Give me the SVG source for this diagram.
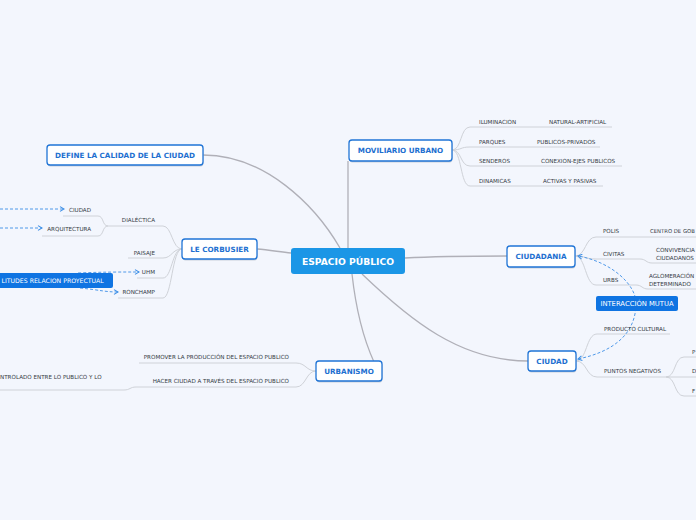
<svg xmlns="http://www.w3.org/2000/svg" width="696" height="520" viewBox="0 0 696 520">
<defs>
<style>
.main{fill:none;stroke:#b0b0b8;stroke-width:1.3}
.sub{fill:none;stroke:#cfd2d8;stroke-width:1}
.dash{fill:none;stroke:#3d8fe6;stroke-width:0.9;stroke-dasharray:3 2}
.node{fill:#ffffff;stroke:#1f74d6;stroke-width:1.3}
.shadow{fill:#c9cfdb}
.nt{font-family:"DejaVu Sans",Verdana,sans-serif;font-weight:bold;font-size:7.2px;fill:#1d6fd0;text-anchor:middle}
.lb{font-family:"DejaVu Sans",Verdana,sans-serif;font-size:5.6px;fill:#333a44}
.wt{font-family:"DejaVu Sans",Verdana,sans-serif;font-size:6.8px;fill:#ffffff}
</style>
<marker id="arr" viewBox="0 0 6 6" refX="5" refY="3" markerWidth="6" markerHeight="6" orient="auto" markerUnits="userSpaceOnUse">
<path d="M1 0.6 L5 3 L1 5.4" fill="none" stroke="#3d8fe6" stroke-width="1.1"/>
</marker>
</defs>
<rect width="696" height="520" fill="#f3f6fd"/>
<g id="connectors">
<path class="main" d="M348 248 L348 161"/>
<path class="main" d="M203 155 C265 155, 315 205, 340 248"/>
<path class="main" d="M257 249 C270 250, 280 252, 291 253"/>
<path class="main" d="M405 258 C440 256, 470 256, 507 256"/>
<path class="main" d="M362 274 C410 320, 460 361, 528 361"/>
<path class="main" d="M352 274 C356 310, 364 340, 374 362"/>
<path class="sub" d="M452 150 C462 150, 460 127, 470 127 L612 127"/>
<path class="sub" d="M452 150 C462 150, 460 147, 470 147 L600 147"/>
<path class="sub" d="M452 150 C462 150, 460 166, 470 166 L622 166"/>
<path class="sub" d="M452 150 C462 150, 460 186, 470 186 L603 186"/>
<path class="sub" d="M182 249 C172 249, 172 226, 163 226 L108 226"/>
<path class="sub" d="M182 249 C172 249, 172 258, 163 258 L128 258"/>
<path class="sub" d="M182 249 C172 249, 172 278, 163 278 L137 278"/>
<path class="sub" d="M182 249 C172 249, 172 298, 163 298 L118 298"/>
<path class="sub" d="M108 226 C102 226, 104 216, 98 216 L63 216"/>
<path class="sub" d="M108 226 C102 226, 104 236, 98 236 L42 236"/>
<path class="sub" d="M575 256 C586 256, 585 237, 596 237 L696 237"/>
<path class="sub" d="M575 256 C586 256, 585 259, 596 259 L640 259 C646 259, 646 263, 652 263 L696 263"/>
<path class="sub" d="M575 256 C586 256, 585 285, 596 285 L636 285 C642 285, 642 289, 648 289 L696 289"/>
<path class="sub" d="M576 361 C587 361, 586 334, 597 334 L670 334"/>
<path class="sub" d="M576 361 C587 361, 586 377, 597 377 L696 377"/>
<path class="sub" d="M666 377 C676 377, 674 357, 684 357 L696 357"/>
<path class="sub" d="M666 377 C676 377, 674 396, 684 396 L696 396"/>
<path class="sub" d="M316 371 C306 371, 306 363, 296 363 L139 363"/>
<path class="sub" d="M316 371 C306 371, 306 387, 296 387 L136 387 C130 387, 130 390, 124 390 L0 390"/>
<path class="dash" d="M0 209 L64 209" marker-end="url(#arr)"/>
<path class="dash" d="M0 228 L42 228" marker-end="url(#arr)"/>
<path class="dash" d="M78 273 C100 272, 120 272, 139 272" marker-end="url(#arr)"/>
<path class="dash" d="M80 288 C100 290, 105 292, 118 292" marker-end="url(#arr)"/>
<path class="dash" d="M636 303 C636 285, 612 262, 578 256" marker-end="url(#arr)"/>
<path class="dash" d="M636 303 C636 335, 612 352, 578 359" marker-end="url(#arr)"/>
</g>
<g id="espacio-publico">
<rect x="291" y="248" width="114" height="26" rx="3" fill="#1b96e6"/>
<text x="348" y="264.8" font-family="DejaVu Sans,Verdana,sans-serif" font-weight="bold" font-size="9.2" fill="#ffffff" text-anchor="middle">ESPACIO PÚBLICO</text>
</g>
<g id="moviliario-urbano">
<rect class="shadow" x="349.5" y="141.5" width="103" height="21" rx="3"/>
<rect class="node" x="349" y="140" width="103" height="21" rx="3"/>
<text class="nt" x="400.5" y="153.2">MOVILIARIO URBANO</text>
</g>
<g id="define-calidad">
<rect class="shadow" x="47.5" y="146.5" width="156" height="20" rx="3"/>
<rect class="node" x="47" y="145" width="156" height="20" rx="3"/>
<text class="nt" x="125" y="157.7">DEFINE LA CALIDAD DE LA CIUDAD</text>
</g>
<g id="le-corbusier">
<rect class="shadow" x="182.5" y="240.5" width="75" height="20" rx="3"/>
<rect class="node" x="182" y="239" width="75" height="20" rx="3"/>
<text class="nt" x="219.5" y="251.7">LE CORBUSIER</text>
</g>
<g id="ciudadania">
<rect class="shadow" x="507.5" y="247.5" width="68" height="21" rx="3"/>
<rect class="node" x="507" y="246" width="68" height="21" rx="3"/>
<text class="nt" x="541" y="259.2">CIUDADANIA</text>
</g>
<g id="ciudad">
<rect class="shadow" x="528.5" y="352.5" width="48" height="20" rx="3"/>
<rect class="node" x="528" y="351" width="48" height="20" rx="3"/>
<text class="nt" x="552" y="363.7">CIUDAD</text>
</g>
<g id="urbanismo">
<rect class="shadow" x="316.5" y="362.5" width="66" height="20" rx="3"/>
<rect class="node" x="316" y="361" width="66" height="20" rx="3"/>
<text class="nt" x="349" y="373.7">URBANISMO</text>
</g>
<g id="interaccion-mutua">
<rect x="596" y="296" width="82" height="15" rx="2" fill="#0f74e2"/>
<text class="wt" x="637" y="306" text-anchor="middle">INTERACCIÓN MUTUA</text>
</g>
<g id="similitudes">
<path d="M0 273 H111 A2 2 0 0 1 113 275 V286 A2 2 0 0 1 111 288 H0 Z" fill="#0f74e2"/>
<text class="wt" x="1.5" y="282.9" style="font-size:6.2px">LITUDES RELACION PROYECTUAL</text>
</g>
<g id="labels-moviliario">
<text class="lb" x="479" y="124">ILUMINACION</text>
<text class="lb" x="549" y="124">NATURAL-ARTIFICIAL</text>
<text class="lb" x="479" y="143.5">PARQUES</text>
<text class="lb" x="537" y="143.5">PUBLICOS-PRIVADOS</text>
<text class="lb" x="479" y="163">SENDEROS</text>
<text class="lb" x="541" y="163">CONEXION-EJES PUBLICOS</text>
<text class="lb" x="479" y="182.5">DINAMICAS</text>
<text class="lb" x="543" y="182.5">ACTIVAS Y PASIVAS</text>
</g>
<g id="labels-corbusier">
<text class="lb" x="155" y="222" text-anchor="end">DIALÉCTICA</text>
<text class="lb" x="91" y="212" text-anchor="end">CIUDAD</text>
<text class="lb" x="91" y="231" text-anchor="end">ARQUITECTURA</text>
<text class="lb" x="155" y="255" text-anchor="end">PAISAJE</text>
<text class="lb" x="155" y="274" text-anchor="end">UHM</text>
<text class="lb" x="155" y="294" text-anchor="end">RONCHAMP</text>
</g>
<g id="labels-ciudadania">
<text class="lb" x="603" y="233">POLIS</text>
<text class="lb" x="650" y="233" style="font-size:5.3px">CENTRO DE GOB</text>
<text class="lb" x="603" y="256">CIVITAS</text>
<text class="lb" x="656" y="252">CONVIVENCIA</text>
<text class="lb" x="656" y="260">CIUDADANOS</text>
<text class="lb" x="603" y="282">URBS</text>
<text class="lb" x="649" y="278">AGLOMERACIÓN</text>
<text class="lb" x="649" y="286">DETERMINADO</text>
</g>
<g id="labels-ciudad">
<text class="lb" x="604" y="331">PRODUCTO CULTURAL</text>
<text class="lb" x="604" y="373">PUNTOS NEGATIVOS</text>
<text class="lb" x="692" y="354">P</text>
<text class="lb" x="692" y="373">D</text>
<text class="lb" x="692" y="393">F</text>
</g>
<g id="labels-urbanismo">
<text class="lb" x="289" y="359" text-anchor="end">PROMOVER LA PRODUCCIÓN DEL ESPACIO PUBLICO</text>
<text class="lb" x="289" y="383" text-anchor="end">HACER CIUDAD A TRAVÉS DEL ESPACIO PUBLICO</text>
<text class="lb" x="0" y="379">NTROLADO ENTRE LO PUBLICO Y LO</text>
</g>
</svg>
